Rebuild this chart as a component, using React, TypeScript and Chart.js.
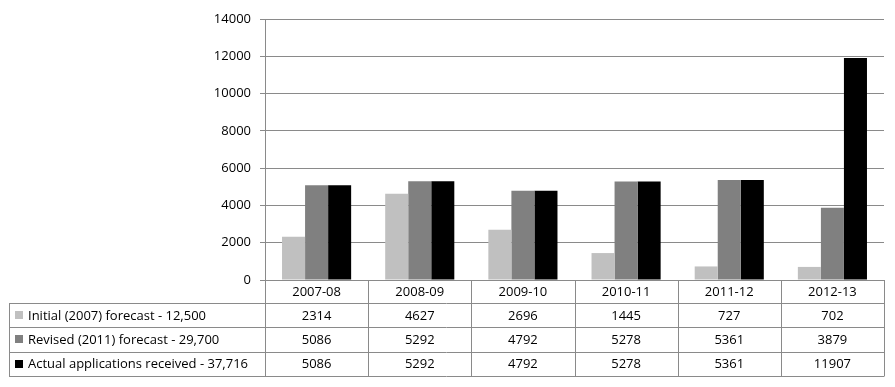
import React, { useEffect, useRef } from "react";
import { Chart, registerables } from "chart.js";

Chart.register(...registerables);

const categories = ["2007-08", "2008-09", "2009-10", "2010-11", "2011-12", "2012-13"];
const seriesNames = [
  "Initial (2007) forecast - 12,500",
  "Revised (2011) forecast - 29,700",
  "Actual applications received - 37,716",
];
const initialForecast = [2314, 4627, 2696, 1445, 727, 702];
const revisedForecast = [5086, 5292, 4792, 5278, 5361, 3879];
const actualApplications = [5086, 5292, 4792, 5278, 5361, 11907];
const seriesColors = ["#c0c0c0", "#808080", "#000000"];
const yTicksMax = 14000;
const yTickStep = 2000;

const FONT = "'Open Sans', 'DejaVu Sans', sans-serif";
const LINE = "#8a8a8a";

const tablePlugin = {
  id: "dataTable",
  afterDraw(chart: any) {
    const ctx = chart.ctx as CanvasRenderingContext2D;
    const area = chart.chartArea;
    const n = categories.length;
    const w = (area.right - area.left) / n;
    const headerTop = area.bottom;
    const headerH = 23;
    const rowH = 24.3;
    const tableLeft = 9;
    const rowsTop = headerTop + headerH;
    const tableBottom = rowsTop + rowH * 3;
    ctx.save();
    ctx.strokeStyle = LINE;
    ctx.lineWidth = 1;
    ctx.beginPath();
    for (let r = 0; r <= 3; r++) {
      const y = Math.round(rowsTop + r * rowH) + 0.5;
      ctx.moveTo(tableLeft, y);
      ctx.lineTo(area.right, y);
    }
    ctx.moveTo(tableLeft + 0.5, Math.round(rowsTop) + 0.5);
    ctx.lineTo(tableLeft + 0.5, Math.round(tableBottom) + 0.5);
    for (let i = 0; i <= n; i++) {
      const x = Math.round(area.left + i * w) + 0.5;
      ctx.moveTo(x, headerTop);
      ctx.lineTo(x, Math.round(tableBottom) + 0.5);
    }
    ctx.stroke();

    ctx.fillStyle = "#000";
    ctx.font = `13px ${FONT}`;
    ctx.textBaseline = "middle";
    ctx.textAlign = "center";
    categories.forEach((c, i) => {
      const x = chart.scales.x.getPixelForValue(i);
      ctx.fillText(c, x, headerTop + headerH / 2 + 1);
    });
    const data = [initialForecast, revisedForecast, actualApplications];
    data.forEach((row, r) => {
      const yc = rowsTop + r * rowH + rowH / 2 + 1;
      ctx.fillStyle = seriesColors[r];
      ctx.fillRect(tableLeft + 6, Math.round(yc - 5), 8, 8);
      ctx.fillStyle = "#000";
      ctx.textAlign = "left";
      ctx.fillText(seriesNames[r], tableLeft + 19, yc);
      ctx.textAlign = "center";
      row.forEach((v, i) => {
        const x = chart.scales.x.getPixelForValue(i);
        ctx.fillText(String(v), x, yc);
      });
    });
    ctx.restore();
  },
};

export default function App() {
  const ref = useRef<HTMLCanvasElement>(null);
  useEffect(() => {
    document.body.style.margin = "0";
    const chart = new Chart(ref.current!, {
      type: "bar",
      data: {
        labels: categories,
        datasets: [
          { label: seriesNames[0], data: initialForecast, backgroundColor: seriesColors[0] },
          { label: seriesNames[1], data: revisedForecast, backgroundColor: seriesColors[1] },
          { label: seriesNames[2], data: actualApplications, backgroundColor: seriesColors[2] },
        ],
      },
      options: {
        animation: false,
        responsive: false,
        maintainAspectRatio: false,
        layout: { padding: { left: 0, right: 11, top: 19, bottom: 107 } },
        datasets: { bar: { barPercentage: 1, categoryPercentage: 0.67 } },
        plugins: { legend: { display: false }, tooltip: { enabled: false } },
        scales: {
          x: {
            ticks: { display: false },
            grid: { display: false },
            border: { display: true, color: LINE },
            afterFit(scale: any) {
              scale.height = 0;
            },
          },
          y: {
            min: 0,
            max: yTicksMax,
            ticks: {
              stepSize: yTickStep,
              padding: 9,
              color: "#000",
              font: { family: FONT, size: 13 },
              callback: (v: any) => String(v),
            },
            grid: { color: LINE, tickLength: 5 },
            border: { display: true, color: LINE },
            afterFit(scale: any) {
              scale.width = 265;
            },
          },
        },
      },
      plugins: [tablePlugin],
    });
    return () => chart.destroy();
  }, []);
  return (
    <div style={{ width: 895, height: 387 }}>
      <canvas ref={ref} width={895} height={387} style={{ display: "block" }} />
    </div>
  );
}
